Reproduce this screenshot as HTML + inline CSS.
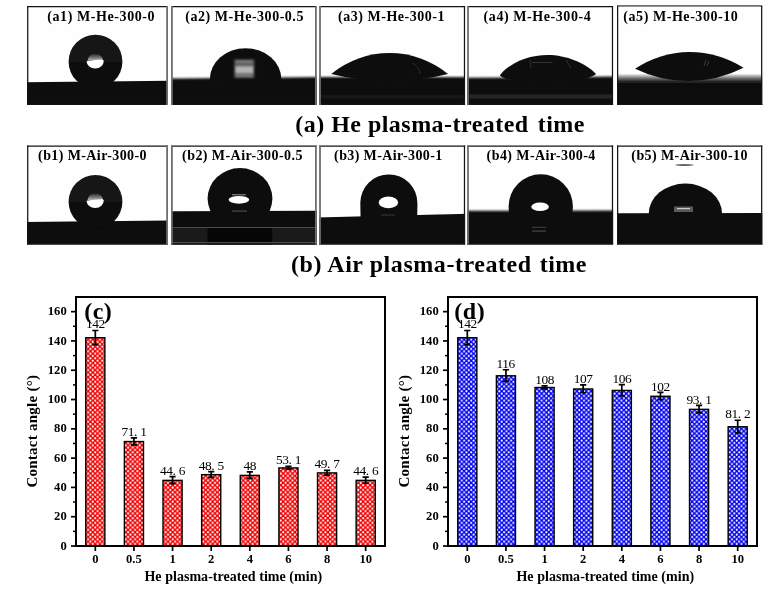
<!DOCTYPE html>
<html lang="en"><head><meta charset="utf-8"><title>Contact angle figure</title>
<style>
html,body{margin:0;padding:0;background:#fff;}
body{width:784px;height:590px;overflow:hidden;}
svg{display:block;}
text{font-family:"Liberation Serif",serif;fill:#000;}
.pl{font-size:14px;font-weight:bold;}
.cap{font-size:24px;font-weight:bold;}
.tk{font-size:12.6px;font-weight:bold;}
.ax{font-size:14px;font-weight:bold;letter-spacing:0.04px;}
.ay{font-size:15px;font-weight:bold;letter-spacing:0.25px;}
.vl{font-size:13.4px;letter-spacing:-0.45px;}
.big{font-size:24px;font-weight:bold;letter-spacing:0.5px;}
</style></head><body>
<svg width="784" height="590" viewBox="0 0 784 590">
<defs>
<filter id="bl1" x="-10%" y="-10%" width="120%" height="120%"><feGaussianBlur stdDeviation="0.7"/></filter>
<filter id="bl2" x="-10%" y="-10%" width="120%" height="120%"><feGaussianBlur stdDeviation="1.2"/></filter>
<filter id="bl3" x="-20%" y="-20%" width="140%" height="140%"><feGaussianBlur stdDeviation="2"/></filter>
<pattern id="pr" width="4.7" height="4.7" patternUnits="userSpaceOnUse"><rect width="4.7" height="4.7" fill="#f00000"/><circle cx="1.175" cy="1.175" r="1.08" fill="#fff"/><circle cx="3.5250000000000004" cy="3.5250000000000004" r="1.08" fill="#fff"/></pattern>
<pattern id="pb" width="4.7" height="4.7" patternUnits="userSpaceOnUse"><rect width="4.7" height="4.7" fill="#0000f0"/><circle cx="1.175" cy="1.175" r="1.08" fill="#fff"/><circle cx="3.5250000000000004" cy="3.5250000000000004" r="1.08" fill="#fff"/></pattern>
<linearGradient id="gd" x1="0" y1="0" x2="0" y2="1"><stop offset="0" stop-color="#171717"/><stop offset="0.5" stop-color="#121212"/><stop offset="0.55" stop-color="#0a0a0a"/><stop offset="1" stop-color="#0a0a0a"/></linearGradient>
<linearGradient id="gh" x1="0" y1="0" x2="0" y2="1"><stop offset="0" stop-color="#242424"/><stop offset="1" stop-color="#b8b8b8"/></linearGradient>
</defs>

<clipPath id="c00"><rect x="27.1" y="6" width="140.9" height="99.0"/></clipPath>
<g clip-path="url(#c00)">
<rect x="27.1" y="6" width="140.9" height="99.0" fill="#fefefe"/>
<polygon filter="url(#bl1)" points="22,82.2 173,80.8 173,113 22,113" fill="#0c0c0c"/><circle filter="url(#bl1)" cx="95.5" cy="61.6" r="26.9" fill="url(#gd)"/><g filter="url(#bl1)"><path d="M87.55000000000001,60.8 C88.15,55.4 92.15,53.8 95.15,53.8 C98.15,53.8 102.15,55.4 102.75,59.8Z" fill="url(#gh)"/><path d="M86.55000000000001,61.199999999999996 A8.6,7.6 0 0 0 103.75,60.8 L102.65,59.4 Q95.15,59.4 86.55000000000001,61.199999999999996Z" fill="#fff"/></g>
</g>
<path d="M27.1,6.62 H168.0" stroke="#141414" stroke-width="1.25"/><path d="M27.1,104.40 H168.0" stroke="#141414" stroke-width="1.25"/><path d="M27.73,6 V105" stroke="#141414" stroke-width="1.25"/><path d="M167.10,6 V105" stroke="#6e6e6e" stroke-width="1.8"/>
<text class="pl" x="47.2" y="20.8" textLength="107.4" lengthAdjust="spacing">(a1) M-He-300-0</text>
<clipPath id="c01"><rect x="171.0" y="6" width="145.8" height="99.0"/></clipPath>
<g clip-path="url(#c01)">
<rect x="171.0" y="6" width="145.8" height="99.0" fill="#fefefe"/>
<polygon filter="url(#bl2)" points="167,78.6 322,77.0 322,113 167,113" fill="#0c0c0c"/><clipPath id="a2c"><rect x="172" y="0" width="145" height="80"/></clipPath><g clip-path="url(#a2c)"><ellipse filter="url(#bl1)" cx="245.6" cy="78.8" rx="35.7" ry="30.5" fill="#101010"/></g><g filter="url(#bl2)"><rect x="234.3" y="59.5" width="20" height="18.5" fill="#5e5e5e"/><rect x="235.5" y="66.5" width="17.5" height="6.5" fill="#b4b4b4"/><rect x="236" y="61" width="16" height="1" fill="#999"/><rect x="236" y="75" width="16" height="1" fill="#999"/></g>
</g>
<path d="M171.0,6.62 H316.8" stroke="#141414" stroke-width="1.25"/><path d="M171.0,104.40 H316.8" stroke="#141414" stroke-width="1.25"/><path d="M171.90,6 V105" stroke="#6e6e6e" stroke-width="1.8"/><path d="M315.90,6 V105" stroke="#6e6e6e" stroke-width="1.8"/>
<text class="pl" x="185.3" y="20.8" textLength="118.1" lengthAdjust="spacing">(a2) M-He-300-0.5</text>
<clipPath id="c02"><rect x="319.1" y="6" width="146.0" height="99.0"/></clipPath>
<g clip-path="url(#c02)">
<rect x="319.1" y="6" width="146.0" height="99.0" fill="#fefefe"/>
<polygon filter="url(#bl2)" points="315,76.9 470,76.9 470,113 315,113" fill="#0c0c0c"/><path filter="url(#bl1)" d="M331.2,73.9 A92.38,92.38 0 0 1 448,73.9 A243.73,243.73 0 0 1 331.2,73.9Z" fill="#0e0e0e"/><rect filter="url(#bl2)" x="320" y="95.5" width="145" height="2.5" fill="#1e1e1e"/><path filter="url(#bl1)" d="M412,63 Q419,66 420,74" stroke="#2c2c2c" stroke-width="1" fill="none"/>
</g>
<path d="M319.1,6.62 H465.1" stroke="#141414" stroke-width="1.25"/><path d="M319.1,104.40 H465.1" stroke="#141414" stroke-width="1.25"/><path d="M320.00,6 V105" stroke="#6e6e6e" stroke-width="1.8"/><path d="M464.48,6 V105" stroke="#141414" stroke-width="1.25"/>
<text class="pl" x="338.1" y="20.8" textLength="106.4" lengthAdjust="spacing">(a3) M-He-300-1</text>
<clipPath id="c03"><rect x="467.1" y="6" width="146.0" height="99.0"/></clipPath>
<g clip-path="url(#c03)">
<rect x="467.1" y="6" width="146.0" height="99.0" fill="#fefefe"/>
<polygon filter="url(#bl2)" points="463,77.8 618,76.6 618,113 463,113" fill="#0c0c0c"/><path filter="url(#bl1)" d="M499.8,75.4 C510,62 530,55 547.6,55 C566,55 586,63 596,74 C590,79 575,82 547,82 C520,82 505,80 499.8,75.4Z" fill="#0e0e0e"/><rect filter="url(#bl2)" x="468" y="94.5" width="145" height="4" fill="#2a2a2a"/><path filter="url(#bl1)" d="M530,60 L531,68 M532,62.5 L552,62.5 M566,60 L571,68" stroke="#303030" stroke-width="1" fill="none"/>
</g>
<path d="M467.1,6.62 H613.1" stroke="#141414" stroke-width="1.25"/><path d="M467.1,104.40 H613.1" stroke="#141414" stroke-width="1.25"/><path d="M468.00,6 V105" stroke="#6e6e6e" stroke-width="1.8"/><path d="M612.48,6 V105" stroke="#141414" stroke-width="1.25"/>
<text class="pl" x="483.6" y="20.8" textLength="107.1" lengthAdjust="spacing">(a4) M-He-300-4</text>
<clipPath id="c04"><rect x="617.0" y="6" width="145.3" height="99.0"/></clipPath>
<g clip-path="url(#c04)">
<rect x="617.0" y="6" width="145.3" height="99.0" fill="#fefefe"/>
<linearGradient id="g5" x1="0" y1="0" x2="0" y2="1"><stop offset="0" stop-color="#fdfdfd"/><stop offset="0.5" stop-color="#777"/><stop offset="1" stop-color="#0c0c0c"/></linearGradient><rect x="617" y="73.5" width="145.5" height="9" fill="url(#g5)"/><rect x="617" y="82.2" width="145.5" height="23" fill="#0c0c0c"/><path filter="url(#bl1)" d="M635.1,68.7 A99.02,99.02 0 0 1 743.5,67.8 A121.58,121.58 0 0 1 635.1,68.7Z" fill="#0e0e0e"/><path filter="url(#bl1)" d="M706,60 L704,66 M709,61 L707,66" stroke="#3c3c3c" stroke-width="1" fill="none"/>
</g>
<path d="M617.0,5.90 H762.3" stroke="#6e6e6e" stroke-width="1.8"/><path d="M617.0,104.40 H762.3" stroke="#141414" stroke-width="1.25"/><path d="M617.62,6 V105" stroke="#141414" stroke-width="1.25"/><path d="M761.67,6 V105" stroke="#141414" stroke-width="1.25"/>
<text class="pl" x="623.3" y="20.8" textLength="114.5" lengthAdjust="spacing">(a5) M-He-300-10</text>
<clipPath id="c10"><rect x="27.1" y="145.4" width="140.9" height="99.0"/></clipPath>
<g clip-path="url(#c10)">
<rect x="27.1" y="145.4" width="140.9" height="99.0" fill="#fefefe"/>
<polygon filter="url(#bl1)" points="22,221.9 173,220.4 173,253 22,253" fill="#0c0c0c"/><circle filter="url(#bl1)" cx="95.5" cy="201.8" r="26.9" fill="url(#gd)"/><g filter="url(#bl1)"><path d="M87.55000000000001,200.3 C88.15,194.9 92.15,193.3 95.15,193.3 C98.15,193.3 102.15,194.9 102.75,199.3Z" fill="url(#gh)"/><path d="M86.55000000000001,200.70000000000002 A8.6,7.6 0 0 0 103.75,200.3 L102.65,198.9 Q95.15,198.9 86.55000000000001,200.70000000000002Z" fill="#fff"/></g>
</g>
<path d="M27.1,146.03 H168.0" stroke="#141414" stroke-width="1.25"/><path d="M27.1,243.80 H168.0" stroke="#141414" stroke-width="1.25"/><path d="M27.73,145.4 V244.4" stroke="#141414" stroke-width="1.25"/><path d="M167.10,145.4 V244.4" stroke="#6e6e6e" stroke-width="1.8"/>
<text class="pl" x="38.1" y="159.8" textLength="108.4" lengthAdjust="spacing">(b1) M-Air-300-0</text>
<clipPath id="c11"><rect x="171.0" y="145.4" width="145.8" height="99.0"/></clipPath>
<g clip-path="url(#c11)">
<rect x="171.0" y="145.4" width="145.8" height="99.0" fill="#fefefe"/>
<polygon filter="url(#bl1)" points="167,211.2 322,210.8 322,253 167,253" fill="#0c0c0c"/><rect x="172" y="228" width="145" height="17" fill="#1a1a1a"/><rect x="207.6" y="228" width="64.6" height="17" fill="#060606"/><rect x="172" y="227" width="145" height="1" fill="#4c4c4c"/><rect x="172" y="242.2" width="145" height="1.2" fill="#5a5a5a"/><clipPath id="b2c"><rect x="172" y="140" width="145" height="74"/></clipPath><g clip-path="url(#b2c)"><ellipse filter="url(#bl1)" cx="240" cy="198.6" rx="32.4" ry="30.5" fill="#0c0c0c"/></g><g filter="url(#bl1)"><ellipse cx="238.9" cy="199.8" rx="10.3" ry="3.9" fill="#fff"/><rect x="232" y="194.3" width="14" height="1" fill="#9a9a9a"/><rect x="232" y="210.5" width="15" height="1.2" fill="#4a4a4a"/></g>
</g>
<path d="M171.0,146.03 H316.8" stroke="#141414" stroke-width="1.25"/><path d="M171.0,243.80 H316.8" stroke="#141414" stroke-width="1.25"/><path d="M171.90,145.4 V244.4" stroke="#6e6e6e" stroke-width="1.8"/><path d="M315.90,145.4 V244.4" stroke="#6e6e6e" stroke-width="1.8"/>
<text class="pl" x="182.1" y="159.8" textLength="120.3" lengthAdjust="spacing">(b2) M-Air-300-0.5</text>
<clipPath id="c12"><rect x="319.1" y="145.4" width="146.0" height="99.0"/></clipPath>
<g clip-path="url(#c12)">
<rect x="319.1" y="145.4" width="146.0" height="99.0" fill="#fefefe"/>
<polygon filter="url(#bl1)" points="315,217.6 470,213.6 470,253 315,253" fill="#0c0c0c"/><path filter="url(#bl1)" d="M360.6,218 L360.3,203 A28.55,28.6 0 0 1 417.4,203 L417.2,218 Z" fill="#0c0c0c"/><g filter="url(#bl1)"><ellipse cx="388.4" cy="202.4" rx="9.7" ry="5.8" fill="#fff"/><rect x="381" y="214.5" width="14" height="1" fill="#3a3a3a"/></g>
</g>
<path d="M319.1,146.03 H465.1" stroke="#141414" stroke-width="1.25"/><path d="M319.1,243.80 H465.1" stroke="#141414" stroke-width="1.25"/><path d="M320.00,145.4 V244.4" stroke="#6e6e6e" stroke-width="1.8"/><path d="M464.48,145.4 V244.4" stroke="#141414" stroke-width="1.25"/>
<text class="pl" x="334.1" y="159.8" textLength="108.1" lengthAdjust="spacing">(b3) M-Air-300-1</text>
<clipPath id="c13"><rect x="467.1" y="145.4" width="146.0" height="99.0"/></clipPath>
<g clip-path="url(#c13)">
<rect x="467.1" y="145.4" width="146.0" height="99.0" fill="#fefefe"/>
<polygon filter="url(#bl2)" points="463,210.8 618,210.4 618,253 463,253" fill="#0c0c0c"/><path filter="url(#bl1)" d="M509,214 L508.6,206.5 A32.15,32.2 0 0 1 572.9,206.5 L572.5,214 Z" fill="#0c0c0c"/><g filter="url(#bl1)"><ellipse cx="540.1" cy="206.8" rx="8.8" ry="4.3" fill="#fff"/><rect x="532" y="226.8" width="14" height="1.2" fill="#383838"/><rect x="532" y="230.5" width="14" height="1.2" fill="#484848"/></g>
</g>
<path d="M467.1,146.03 H613.1" stroke="#141414" stroke-width="1.25"/><path d="M467.1,243.80 H613.1" stroke="#141414" stroke-width="1.25"/><path d="M468.00,145.4 V244.4" stroke="#6e6e6e" stroke-width="1.8"/><path d="M612.48,145.4 V244.4" stroke="#141414" stroke-width="1.25"/>
<text class="pl" x="486.6" y="159.8" textLength="108.7" lengthAdjust="spacing">(b4) M-Air-300-4</text>
<clipPath id="c14"><rect x="617.0" y="145.4" width="145.3" height="99.0"/></clipPath>
<g clip-path="url(#c14)">
<rect x="617.0" y="145.4" width="145.3" height="99.0" fill="#fefefe"/>
<polygon filter="url(#bl1)" points="612,213.3 767,213.0 767,253 612,253" fill="#0c0c0c"/><clipPath id="b5c"><rect x="617" y="140" width="145" height="76"/></clipPath><g clip-path="url(#b5c)"><ellipse filter="url(#bl1)" cx="685.4" cy="213.5" rx="36.6" ry="29.9" fill="#0c0c0c"/></g><g filter="url(#bl1)"><rect x="674" y="206.5" width="19" height="5.5" fill="#5a5a5a"/><rect x="677" y="208" width="13" height="1.2" fill="#c8c8c8"/></g><ellipse filter="url(#bl1)" cx="684.4" cy="165" rx="9.4" ry="0.8" fill="#333"/>
</g>
<path d="M617.0,146.03 H762.3" stroke="#141414" stroke-width="1.25"/><path d="M617.0,243.80 H762.3" stroke="#141414" stroke-width="1.25"/><path d="M617.62,145.4 V244.4" stroke="#141414" stroke-width="1.25"/><path d="M761.67,145.4 V244.4" stroke="#141414" stroke-width="1.25"/>
<text class="pl" x="631.3" y="159.8" textLength="116.1" lengthAdjust="spacing">(b5) M-Air-300-10</text>
<text class="cap" y="131.8"><tspan x="295.3" letter-spacing="0.47">(a) He plasma-treated</tspan><tspan x="537.7" letter-spacing="0.5">time</tspan></text>
<text class="cap" y="272.3"><tspan x="291" letter-spacing="0.56">(b) Air plasma-treated</tspan><tspan x="539.7" letter-spacing="0.5">time</tspan></text>
<rect x="85.76" y="337.71" width="19.1" height="208.29" fill="url(#pr)" stroke="#000" stroke-width="1.4"/><path d="M95.31,330.48 V344.54 M92.21,330.48 h6.2 M92.21,344.54 h6.2" stroke="#000" stroke-width="1.7" fill="none"/><text class="vl" x="85.94" y="327.78">142</text><rect x="124.39" y="441.56" width="19.1" height="104.44" fill="url(#pr)" stroke="#000" stroke-width="1.4"/><path d="M133.94,437.84 V444.87 M130.84,437.84 h6.2 M130.84,444.87 h6.2" stroke="#000" stroke-width="1.7" fill="none"/><text class="vl" x="121.44" y="435.94">71.<tspan dx="3.3">1</tspan></text><rect x="163.01" y="480.37" width="19.1" height="65.63" fill="url(#pr)" stroke="#000" stroke-width="1.4"/><path d="M172.56,476.66 V483.69 M169.46,476.66 h6.2 M169.46,483.69 h6.2" stroke="#000" stroke-width="1.7" fill="none"/><text class="vl" x="160.06" y="474.76">44.<tspan dx="3.3">6</tspan></text><rect x="201.64" y="474.66" width="19.1" height="71.34" fill="url(#pr)" stroke="#000" stroke-width="1.4"/><path d="M211.19,471.53 V477.39 M208.09,471.53 h6.2 M208.09,477.39 h6.2" stroke="#000" stroke-width="1.7" fill="none"/><text class="vl" x="198.69" y="469.63">48.<tspan dx="3.3">5</tspan></text><rect x="240.26" y="475.39" width="19.1" height="70.61" fill="url(#pr)" stroke="#000" stroke-width="1.4"/><path d="M249.81,471.97 V478.42 M246.71,471.97 h6.2 M246.71,478.42 h6.2" stroke="#000" stroke-width="1.7" fill="none"/><text class="vl" x="243.56" y="470.07">48</text><rect x="278.89" y="467.92" width="19.1" height="78.08" fill="url(#pr)" stroke="#000" stroke-width="1.4"/><path d="M288.44,466.26 V469.19 M285.34,466.26 h6.2 M285.34,469.19 h6.2" stroke="#000" stroke-width="1.7" fill="none"/><text class="vl" x="275.94" y="464.36">53.<tspan dx="3.3">1</tspan></text><rect x="317.51" y="472.90" width="19.1" height="73.10" fill="url(#pr)" stroke="#000" stroke-width="1.4"/><path d="M327.06,470.36 V475.05 M323.96,470.36 h6.2 M323.96,475.05 h6.2" stroke="#000" stroke-width="1.7" fill="none"/><text class="vl" x="314.56" y="468.46">49.<tspan dx="3.3">7</tspan></text><rect x="356.14" y="480.37" width="19.1" height="65.63" fill="url(#pr)" stroke="#000" stroke-width="1.4"/><path d="M365.69,477.10 V483.25 M362.59,477.10 h6.2 M362.59,483.25 h6.2" stroke="#000" stroke-width="1.7" fill="none"/><text class="vl" x="353.19" y="475.20">44.<tspan dx="3.3">6</tspan></text><rect x="76" y="297" width="309" height="249" fill="none" stroke="#000" stroke-width="2"/><path d="M71,546.00 H76" stroke="#000" stroke-width="1.7"/><text class="tk" x="66.7" y="549.60" text-anchor="end">0</text><path d="M73,531.35 H76" stroke="#000" stroke-width="1.5"/><path d="M71,516.71 H76" stroke="#000" stroke-width="1.7"/><text class="tk" x="66.7" y="520.31" text-anchor="end">20</text><path d="M73,502.06 H76" stroke="#000" stroke-width="1.5"/><path d="M71,487.41 H76" stroke="#000" stroke-width="1.7"/><text class="tk" x="66.7" y="491.01" text-anchor="end">40</text><path d="M73,472.76 H76" stroke="#000" stroke-width="1.5"/><path d="M71,458.12 H76" stroke="#000" stroke-width="1.7"/><text class="tk" x="66.7" y="461.72" text-anchor="end">60</text><path d="M73,443.47 H76" stroke="#000" stroke-width="1.5"/><path d="M71,428.82 H76" stroke="#000" stroke-width="1.7"/><text class="tk" x="66.7" y="432.42" text-anchor="end">80</text><path d="M73,414.18 H76" stroke="#000" stroke-width="1.5"/><path d="M71,399.53 H76" stroke="#000" stroke-width="1.7"/><text class="tk" x="66.7" y="403.13" text-anchor="end">100</text><path d="M73,384.88 H76" stroke="#000" stroke-width="1.5"/><path d="M71,370.24 H76" stroke="#000" stroke-width="1.7"/><text class="tk" x="66.7" y="373.84" text-anchor="end">120</text><path d="M73,355.59 H76" stroke="#000" stroke-width="1.5"/><path d="M71,340.94 H76" stroke="#000" stroke-width="1.7"/><text class="tk" x="66.7" y="344.54" text-anchor="end">140</text><path d="M73,326.29 H76" stroke="#000" stroke-width="1.5"/><path d="M71,311.65 H76" stroke="#000" stroke-width="1.7"/><text class="tk" x="66.7" y="315.25" text-anchor="end">160</text><path d="M95.31,546 V551" stroke="#000" stroke-width="1.7"/><text class="tk" x="95.31" y="562.6" text-anchor="middle">0</text><path d="M133.94,546 V551" stroke="#000" stroke-width="1.7"/><text class="tk" x="133.94" y="562.6" text-anchor="middle">0.5</text><path d="M172.56,546 V551" stroke="#000" stroke-width="1.7"/><text class="tk" x="172.56" y="562.6" text-anchor="middle">1</text><path d="M211.19,546 V551" stroke="#000" stroke-width="1.7"/><text class="tk" x="211.19" y="562.6" text-anchor="middle">2</text><path d="M249.81,546 V551" stroke="#000" stroke-width="1.7"/><text class="tk" x="249.81" y="562.6" text-anchor="middle">4</text><path d="M288.44,546 V551" stroke="#000" stroke-width="1.7"/><text class="tk" x="288.44" y="562.6" text-anchor="middle">6</text><path d="M327.06,546 V551" stroke="#000" stroke-width="1.7"/><text class="tk" x="327.06" y="562.6" text-anchor="middle">8</text><path d="M365.69,546 V551" stroke="#000" stroke-width="1.7"/><text class="tk" x="365.69" y="562.6" text-anchor="middle">10</text><text class="ax" x="233.3" y="580.6" text-anchor="middle">He plasma-treated time (min)</text><text class="ay" transform="translate(36.7,431.2) rotate(-90)" text-anchor="middle">Contact angle (°)</text><text class="big" x="84.2" y="318.8">(c)</text>
<rect x="457.76" y="337.71" width="19.1" height="208.29" fill="url(#pb)" stroke="#000" stroke-width="1.4"/><path d="M467.31,330.48 V344.54 M464.21,330.48 h6.2 M464.21,344.54 h6.2" stroke="#000" stroke-width="1.7" fill="none"/><text class="vl" x="457.94" y="327.78">142</text><rect x="496.39" y="375.79" width="19.1" height="170.21" fill="url(#pb)" stroke="#000" stroke-width="1.4"/><path d="M505.94,369.74 V381.45 M502.84,369.74 h6.2 M502.84,381.45 h6.2" stroke="#000" stroke-width="1.7" fill="none"/><text class="vl" x="496.56" y="367.84">116</text><rect x="535.01" y="387.51" width="19.1" height="158.49" fill="url(#pb)" stroke="#000" stroke-width="1.4"/><path d="M544.56,385.85 V388.78 M541.46,385.85 h6.2 M541.46,388.78 h6.2" stroke="#000" stroke-width="1.7" fill="none"/><text class="vl" x="535.19" y="383.95">108</text><rect x="573.64" y="388.98" width="19.1" height="157.02" fill="url(#pb)" stroke="#000" stroke-width="1.4"/><path d="M583.19,384.82 V392.73 M580.09,384.82 h6.2 M580.09,392.73 h6.2" stroke="#000" stroke-width="1.7" fill="none"/><text class="vl" x="573.81" y="382.92">107</text><rect x="612.26" y="390.44" width="19.1" height="155.56" fill="url(#pb)" stroke="#000" stroke-width="1.4"/><path d="M621.81,384.68 V395.81 M618.71,384.68 h6.2 M618.71,395.81 h6.2" stroke="#000" stroke-width="1.7" fill="none"/><text class="vl" x="612.44" y="382.78">106</text><rect x="650.89" y="396.30" width="19.1" height="149.70" fill="url(#pb)" stroke="#000" stroke-width="1.4"/><path d="M660.44,392.44 V399.76 M657.34,392.44 h6.2 M657.34,399.76 h6.2" stroke="#000" stroke-width="1.7" fill="none"/><text class="vl" x="651.06" y="390.54">102</text><rect x="689.51" y="409.34" width="19.1" height="136.66" fill="url(#pb)" stroke="#000" stroke-width="1.4"/><path d="M699.06,405.47 V412.80 M695.96,405.47 h6.2 M695.96,412.80 h6.2" stroke="#000" stroke-width="1.7" fill="none"/><text class="vl" x="686.56" y="403.57">93.<tspan dx="3.3">1</tspan></text><rect x="728.14" y="426.77" width="19.1" height="119.23" fill="url(#pb)" stroke="#000" stroke-width="1.4"/><path d="M737.69,420.27 V432.86 M734.59,420.27 h6.2 M734.59,432.86 h6.2" stroke="#000" stroke-width="1.7" fill="none"/><text class="vl" x="725.19" y="418.37">81.<tspan dx="3.3">2</tspan></text><rect x="448" y="297" width="309" height="249" fill="none" stroke="#000" stroke-width="2"/><path d="M443,546.00 H448" stroke="#000" stroke-width="1.7"/><text class="tk" x="438.7" y="549.60" text-anchor="end">0</text><path d="M445,531.35 H448" stroke="#000" stroke-width="1.5"/><path d="M443,516.71 H448" stroke="#000" stroke-width="1.7"/><text class="tk" x="438.7" y="520.31" text-anchor="end">20</text><path d="M445,502.06 H448" stroke="#000" stroke-width="1.5"/><path d="M443,487.41 H448" stroke="#000" stroke-width="1.7"/><text class="tk" x="438.7" y="491.01" text-anchor="end">40</text><path d="M445,472.76 H448" stroke="#000" stroke-width="1.5"/><path d="M443,458.12 H448" stroke="#000" stroke-width="1.7"/><text class="tk" x="438.7" y="461.72" text-anchor="end">60</text><path d="M445,443.47 H448" stroke="#000" stroke-width="1.5"/><path d="M443,428.82 H448" stroke="#000" stroke-width="1.7"/><text class="tk" x="438.7" y="432.42" text-anchor="end">80</text><path d="M445,414.18 H448" stroke="#000" stroke-width="1.5"/><path d="M443,399.53 H448" stroke="#000" stroke-width="1.7"/><text class="tk" x="438.7" y="403.13" text-anchor="end">100</text><path d="M445,384.88 H448" stroke="#000" stroke-width="1.5"/><path d="M443,370.24 H448" stroke="#000" stroke-width="1.7"/><text class="tk" x="438.7" y="373.84" text-anchor="end">120</text><path d="M445,355.59 H448" stroke="#000" stroke-width="1.5"/><path d="M443,340.94 H448" stroke="#000" stroke-width="1.7"/><text class="tk" x="438.7" y="344.54" text-anchor="end">140</text><path d="M445,326.29 H448" stroke="#000" stroke-width="1.5"/><path d="M443,311.65 H448" stroke="#000" stroke-width="1.7"/><text class="tk" x="438.7" y="315.25" text-anchor="end">160</text><path d="M467.31,546 V551" stroke="#000" stroke-width="1.7"/><text class="tk" x="467.31" y="562.6" text-anchor="middle">0</text><path d="M505.94,546 V551" stroke="#000" stroke-width="1.7"/><text class="tk" x="505.94" y="562.6" text-anchor="middle">0.5</text><path d="M544.56,546 V551" stroke="#000" stroke-width="1.7"/><text class="tk" x="544.56" y="562.6" text-anchor="middle">1</text><path d="M583.19,546 V551" stroke="#000" stroke-width="1.7"/><text class="tk" x="583.19" y="562.6" text-anchor="middle">2</text><path d="M621.81,546 V551" stroke="#000" stroke-width="1.7"/><text class="tk" x="621.81" y="562.6" text-anchor="middle">4</text><path d="M660.44,546 V551" stroke="#000" stroke-width="1.7"/><text class="tk" x="660.44" y="562.6" text-anchor="middle">6</text><path d="M699.06,546 V551" stroke="#000" stroke-width="1.7"/><text class="tk" x="699.06" y="562.6" text-anchor="middle">8</text><path d="M737.69,546 V551" stroke="#000" stroke-width="1.7"/><text class="tk" x="737.69" y="562.6" text-anchor="middle">10</text><text class="ax" x="605.3" y="580.6" text-anchor="middle">He plasma-treated time (min)</text><text class="ay" transform="translate(408.7,431.2) rotate(-90)" text-anchor="middle">Contact angle (°)</text><text class="big" x="454.3" y="318.8">(d)</text>
</svg></body></html>
